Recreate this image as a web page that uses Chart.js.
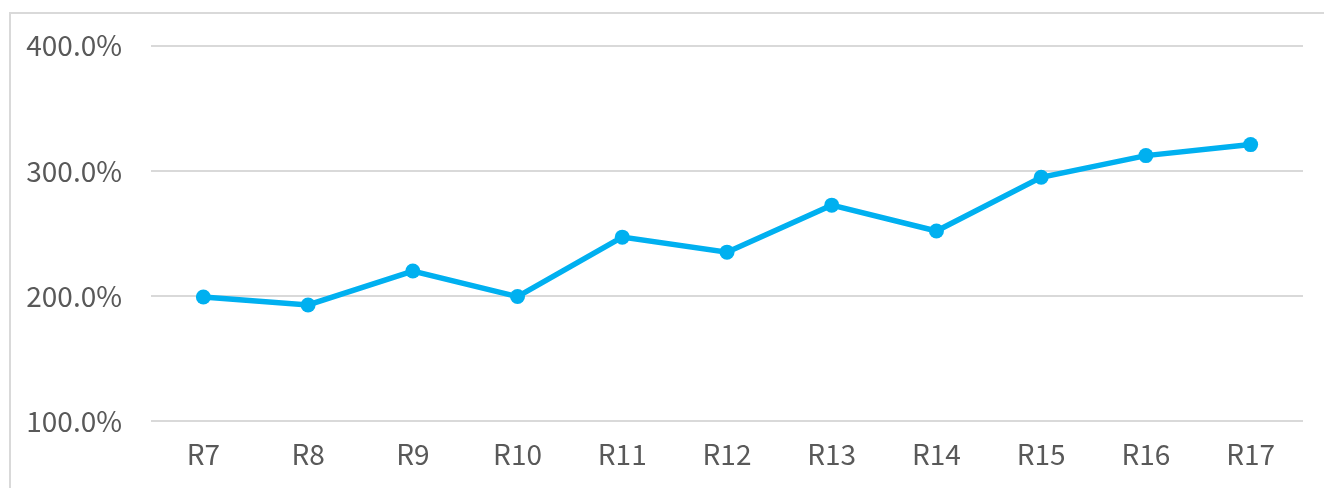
<!DOCTYPE html>
<html>
<head>
<meta charset="utf-8">
<script src="https://cdn.jsdelivr.net/npm/chart.js@4.4.1/dist/chart.umd.min.js"></script>
<style>
  html, body { margin: 0; padding: 0; background: #ffffff; overflow: hidden; }
  #wrap { position: relative; width: 1324px; height: 488px; }
  #frame { position: absolute; left: 9px; top: 12px; width: 1340px; height: 500px; border: 2px solid #d9d9d9; box-sizing: border-box; }
  canvas { position: absolute; left: 0; top: 0; }
</style>
</head>
<body>
<div id="wrap">
  <div id="frame"></div>
  <canvas id="c" width="1324" height="488"></canvas>
</div>
<script>
const categories = ["R7", "R8", "R9", "R10", "R11", "R12", "R13", "R14", "R15", "R16", "R17"];
const values = [199.2, 192.8, 219.9, 199.5, 247.0, 235.0, 272.6, 251.9, 294.9, 312.2, 321.0];
const yTicks = [100, 200, 300, 400];

const FONT = "'Noto Sans CJK JP', 'Noto Sans', sans-serif";

new Chart(document.getElementById('c'), {
  type: 'line',
  data: {
    labels: categories,
    datasets: [{
      data: values,
      borderColor: '#00B0F0',
      backgroundColor: '#00B0F0',
      borderWidth: 5.5,
      pointRadius: 7.5,
      pointHoverRadius: 7.5,
      pointBackgroundColor: '#00B0F0',
      pointBorderColor: '#00B0F0',
      pointBorderWidth: 0,
      tension: 0,
      fill: false
    }]
  },
  options: {
    responsive: false,
    animation: false,
    events: [],
    layout: { padding: { top: 45, right: 21, left: 0, bottom: 0 } },
    plugins: { legend: { display: false }, tooltip: { enabled: false }, title: { display: false } },
    scales: {
      x: {
        offset: true,
        grid: { display: false, drawTicks: false },
        border: { display: false },
        ticks: {
          color: '#595959',
          font: { family: FONT, size: 28 },
          padding: 17,
          maxRotation: 0,
          autoSkip: false
        },
        afterFit: (s) => { s.height = 67; }
      },
      y: {
        min: 100,
        max: 400,
        afterBuildTicks: (s) => { s.ticks = yTicks.map(v => ({ value: v })); },
        grid: { color: '#d9d9d9', lineWidth: 2, drawTicks: false },
        border: { display: false },
        ticks: {
          color: '#595959',
          font: { family: FONT, size: 28 },
          padding: 29,
          callback: (v) => v.toFixed(1) + '%'
        },
        afterFit: (s) => { s.width = 151; }
      }
    }
  }
});
</script>
</body>
</html>
